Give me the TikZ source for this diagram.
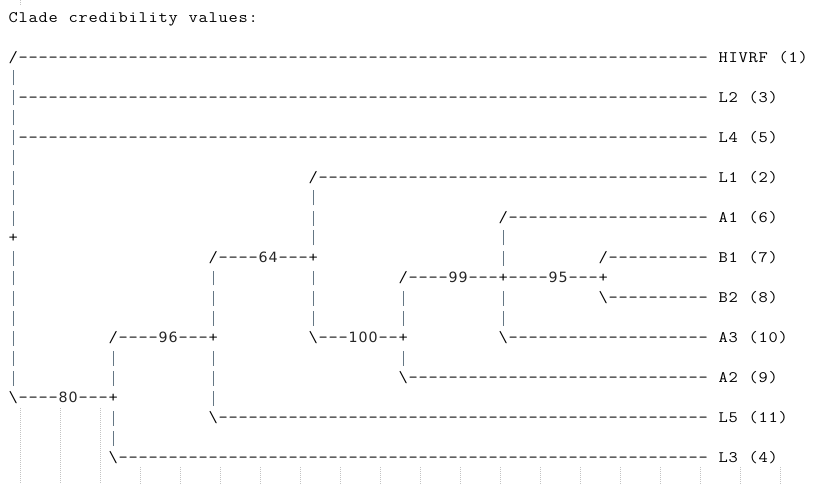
\documentclass[tikz,border=0pt]{standalone}
\usepackage{fontspec}
\newfontfamily\numfont{DejaVu Sans}
\newfontfamily\courfont{Latin Modern Mono}[FakeStretch=1.12]
\definecolor{barc}{RGB}{100,118,132}
\definecolor{gridc}{RGB}{195,195,195}
\newcommand\cc[1]{\makebox[10pt]{#1}}
\ExplSyntaxOn
\cs_new_protected:Npn \dsh #1 {\prg_replicate:nn{#1}{\cc{-}}}
\cs_new_protected:Npn \w #1 {\tl_map_inline:nn{#1}{\cc{##1}}}
\ExplSyntaxOff
\newcommand\gp[1]{\hspace*{#1\dimexpr10pt\relax}}
\newcommand\vb{\cc{\textcolor{barc}{\rule[-3pt]{1.2pt}{15pt}}}}
\newcommand\bs{\cc{\textbackslash}}
\newcommand\dg[1]{\makebox[10pt]{\numfont\fontsize{14.2pt}{20pt}\selectfont\color{black!85}#1}}
\begin{document}
\begin{tikzpicture}[x=1pt,y=-1pt,
  row/.style={anchor=base west,inner sep=0pt,font=\courfont\fontsize{16pt}{20pt}\selectfont},
  gridline/.style={draw=gridc,line width=0.8pt,dash pattern=on 1pt off 1pt}]
\useasboundingbox (0,0) rectangle (823,484);
\foreach \k/\t in {
 0/{\w{Clade}\gp{1}\w{credibility}\gp{1}\w{values:}},
 2/{\w{/}\dsh{69}\gp{1}\w{HIVRF}\gp{1}\w{(1)}},
 3/{\vb},
 4/{\vb\dsh{69}\gp{1}\w{L2}\gp{1}\w{(3)}},
 5/{\vb},
 6/{\vb\dsh{69}\gp{1}\w{L4}\gp{1}\w{(5)}},
 7/{\vb},
 8/{\vb\gp{29}\w{/}\dsh{39}\gp{1}\w{L1}\gp{1}\w{(2)}},
 9/{\vb\gp{29}\vb},
 10/{\vb\gp{29}\vb\gp{18}\w{/}\dsh{20}\gp{1}\w{A1}\gp{1}\w{(6)}},
 11/{\w{+}\gp{29}\vb\gp{18}\vb},
 12/{\vb\gp{19}\w{/}\dsh{4}\dg{6}\dg{4}\dsh{3}\w{+}\gp{18}\vb\gp{9}\w{/}\dsh{10}\gp{1}\w{B1}\gp{1}\w{(7)}},
 13/{\vb\gp{19}\vb\gp{9}\vb\gp{8}\w{/}\dsh{4}\dg{9}\dg{9}\dsh{3}\w{+}\dsh{4}\dg{9}\dg{5}\dsh{3}\w{+}},
 14/{\vb\gp{19}\vb\gp{9}\vb\gp{8}\vb\gp{9}\vb\gp{9}\bs\dsh{10}\gp{1}\w{B2}\gp{1}\w{(8)}},
 15/{\vb\gp{19}\vb\gp{9}\vb\gp{8}\vb\gp{9}\vb},
 16/{\vb\gp{9}\w{/}\dsh{4}\dg{9}\dg{6}\dsh{3}\w{+}\gp{9}\bs\dsh{3}\dg{1}\dg{0}\dg{0}\dsh{2}\w{+}\gp{9}\bs\dsh{20}\gp{1}\w{A3}\gp{1}\w{(10)}},
 17/{\vb\gp{9}\vb\gp{9}\vb\gp{18}\vb},
 18/{\vb\gp{9}\vb\gp{9}\vb\gp{18}\bs\dsh{30}\gp{1}\w{A2}\gp{1}\w{(9)}},
 19/{\bs\dsh{4}\dg{8}\dg{0}\dsh{3}\w{+}\gp{9}\vb},
 20/{\gp{10}\vb\gp{9}\bs\dsh{49}\gp{1}\w{L5}\gp{1}\w{(11)}},
 21/{\gp{10}\vb},
 22/{\gp{10}\bs\dsh{59}\gp{1}\w{L3}\gp{1}\w{(4)}}}
 {\node[row] (r\k) at (8,{22.5+20*\k}) {\t};}
% faint grid showing below the text
\draw[gridline] (20,0) -- (20,5);
\foreach \x in {20,60,100} \draw[gridline] (\x,408) -- (\x,484);
\foreach \x in {140,180,...,780} \draw[gridline] (\x,467) -- (\x,484);
\end{tikzpicture}
\end{document}
